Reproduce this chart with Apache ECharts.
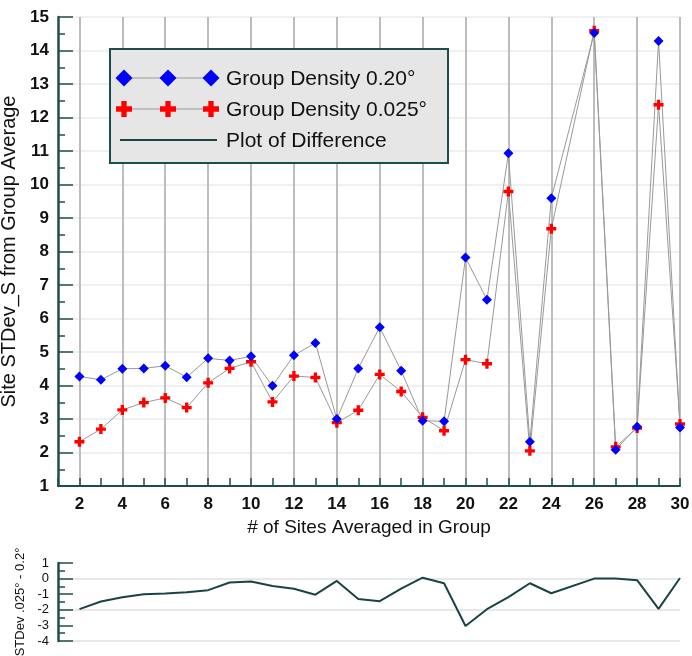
<!DOCTYPE html>
<html>
<head>
<meta charset="utf-8">
<script src="https://cdn.jsdelivr.net/npm/echarts@6/dist/echarts.min.js"></script>
<style>
  html, body { margin: 0; padding: 0; background: #fff; }
  #chart { width: 692px; height: 656px; }
</style>
</head>
<body>
<div id="chart"></div>
<script>
// # of sites averaged (no group of 25)
const sites = [2, 3, 4, 5, 6, 7, 8, 9, 10, 11, 12, 13, 14, 15, 16, 17, 18, 19, 20, 21, 22, 23, 24, 26, 27, 28, 29, 30]

const density020 = [4.27, 4.17, 4.50, 4.51, 4.59, 4.25, 4.81, 4.75, 4.87, 3.99, 4.90, 5.27, 3.00, 4.51,
  5.74, 4.44, 2.95, 2.93, 7.82, 6.56, 10.93, 2.32, 9.59, 14.52, 2.08, 2.77, 14.28, 2.75]

const density0025 = [2.32, 2.70, 3.27, 3.49, 3.63, 3.34, 4.08, 4.51, 4.71, 3.51, 4.28, 4.24, 2.89, 3.26,
  4.33, 3.82, 3.05, 2.65, 4.77, 4.65, 9.79, 2.05, 8.68, 14.59, 2.17, 2.73, 12.38, 2.85]

// lower panel: STDev .025° - 0.2°
const difference = [-1.96, -1.47, -1.20, -1.01, -0.95, -0.88, -0.74, -0.25, -0.19, -0.48, -0.65, -1.03, -0.15, -1.31,
  -1.45, -0.64, 0.06, -0.30, -3.04, -1.96, -1.19, -0.30, -0.94, 0.00, 0.00, -0.10, -1.94, 0.04]

const seriesNames = ['Group Density 0.20°', 'Group Density 0.025°', 'Plot of Difference']

const font = "'Liberation Sans', Arial, sans-serif"
const axisColor = '#1f4d4d'
const crossPath = 'path://M3,0 H6 V3 H9 V6 H6 V9 H3 V6 H0 V3 H3 Z'

const pairs = vals => sites.map((s, i) => [s, vals[i]])

// legend box drawn by hand (three markers per row like the original)
const LZ = 100
function diamond (x, y, r, color) {
  return { type: 'polygon', z: LZ + 2, shape: { points: [[x - r, y], [x, y - r], [x + r, y], [x, y + r]] }, style: { fill: color } }
}
function cross (x, y, r, color) {
  const t = r / 3
  return {
    type: 'polygon',
    z: LZ + 2,
    shape: { points: [[x - t, y - r], [x + t, y - r], [x + t, y - t], [x + r, y - t], [x + r, y + t], [x + t, y + t],
      [x + t, y + r], [x - t, y + r], [x - t, y + t], [x - r, y + t], [x - r, y - t], [x - t, y - t]] },
    style: { fill: color }
  }
}
function legendText (y, text) {
  return { type: 'text', z: LZ + 2, x: 226, y: y, style: { text: text, font: '21px ' + font, fill: '#111', verticalAlign: 'middle' } }
}
function legendLine (x1, x2, y, color, w) {
  return { type: 'line', z: LZ + 1, shape: { x1: x1, y1: y, x2: x2, y2: y }, style: { stroke: color, lineWidth: w } }
}
const markerX = [124, 168, 211]
const legendItems = [
  { type: 'rect', z: LZ, shape: { x: 110, y: 49, width: 338, height: 114 }, style: { fill: '#e6e6e6', stroke: axisColor, lineWidth: 2 } },
  legendLine(124, 211, 78, '#999', 1),
  ...markerX.map(x => diamond(x, 78, 8.5, '#0000ff')),
  legendText(79, seriesNames[0]),
  legendLine(124, 211, 109, '#999', 1),
  ...markerX.map(x => cross(x, 109, 8, '#ff0000')),
  legendText(110, seriesNames[1]),
  legendLine(120, 217, 140, '#1a4444', 2),
  legendText(141, seriesNames[2])
]

const chart = echarts.init(document.getElementById('chart'), null, { renderer: 'canvas' })

const option = {
  animation: false,
  backgroundColor: '#fff',
  textStyle: { fontFamily: font },
  grid: [
    { left: 58, top: 17, width: 622, height: 469, containLabel: false, outerBoundsMode: 'none' },
    { left: 58, top: 563, width: 622, height: 78, containLabel: false, outerBoundsMode: 'none' }
  ],
  xAxis: [
    {
      type: 'value',
      gridIndex: 0,
      min: 1,
      max: 30,
      interval: 1,
      name: '# of Sites Averaged in Group',
      nameLocation: 'middle',
      nameGap: 30,
      nameTextStyle: { fontSize: 19, color: '#111' },
      axisLine: { show: true, lineStyle: { color: axisColor, width: 2 } },
      axisTick: { show: true, inside: true, length: 8, lineStyle: { color: axisColor, width: 1.5 } },
      axisLabel: {
        margin: 10,
        fontSize: 17,
        fontWeight: 'bold',
        color: '#111',
        formatter: v => (v % 2 === 0 ? String(v) : '')
      },
      splitLine: { show: true, lineStyle: { color: ['rgba(0,0,0,0)', '#bdbdbd'], width: 2 } }
    },
    {
      type: 'value',
      gridIndex: 1,
      min: 1,
      max: 30,
      show: false
    }
  ],
  yAxis: [
    {
      type: 'value',
      gridIndex: 0,
      min: 1,
      max: 15,
      interval: 1,
      name: 'Site STDev_S from Group Average',
      nameLocation: 'middle',
      nameGap: 35,
      nameTextStyle: { fontSize: 20, color: '#111' },
      axisLine: { show: true, lineStyle: { color: axisColor, width: 2.5 } },
      axisTick: { show: true, inside: true, length: 15, lineStyle: { color: axisColor, width: 1.5 } },
      minorTick: { show: true, splitNumber: 2, length: 7, lineStyle: { color: axisColor, width: 1.5 } },
      axisLabel: { margin: 9, fontSize: 17, fontWeight: 'bold', color: '#111' },
      splitLine: { show: true, lineStyle: { color: '#ebebeb', width: 1.5 } }
    },
    {
      type: 'value',
      gridIndex: 1,
      min: -4,
      max: 1,
      interval: 1,
      name: 'STDev .025° - 0.2°',
      nameLocation: 'middle',
      nameGap: 22,
      nameTextStyle: { fontSize: 13, color: '#111' },
      axisLine: { show: true, lineStyle: { color: axisColor, width: 2.5 } },
      axisTick: { show: true, inside: true, length: 15, lineStyle: { color: axisColor, width: 1.5 } },
      minorTick: { show: true, splitNumber: 2, length: 7, lineStyle: { color: axisColor, width: 1.5 } },
      axisLabel: { margin: 9, fontSize: 13, color: '#111' },
      splitLine: { show: true, lineStyle: { color: ['#e0e0e0', 'rgba(0,0,0,0)'], width: 1.5 } }
    }
  ],
  series: [
    {
      name: seriesNames[1],
      type: 'line',
      xAxisIndex: 0,
      yAxisIndex: 0,
      data: pairs(density0025),
      symbol: crossPath,
      symbolSize: 10,
      itemStyle: { color: '#ff0000' },
      lineStyle: { color: '#999', width: 1 }
    },
    {
      name: seriesNames[0],
      type: 'line',
      xAxisIndex: 0,
      yAxisIndex: 0,
      data: pairs(density020),
      symbol: 'diamond',
      symbolSize: 10,
      itemStyle: { color: '#0000ff' },
      lineStyle: { color: '#999', width: 1 }
    },
    {
      name: seriesNames[2],
      type: 'line',
      xAxisIndex: 1,
      yAxisIndex: 1,
      data: pairs(difference),
      showSymbol: false,
      lineStyle: { color: '#1a4444', width: 2 }
    }
  ],
  graphic: legendItems
}

chart.setOption(option)
</script>
</body>
</html>
